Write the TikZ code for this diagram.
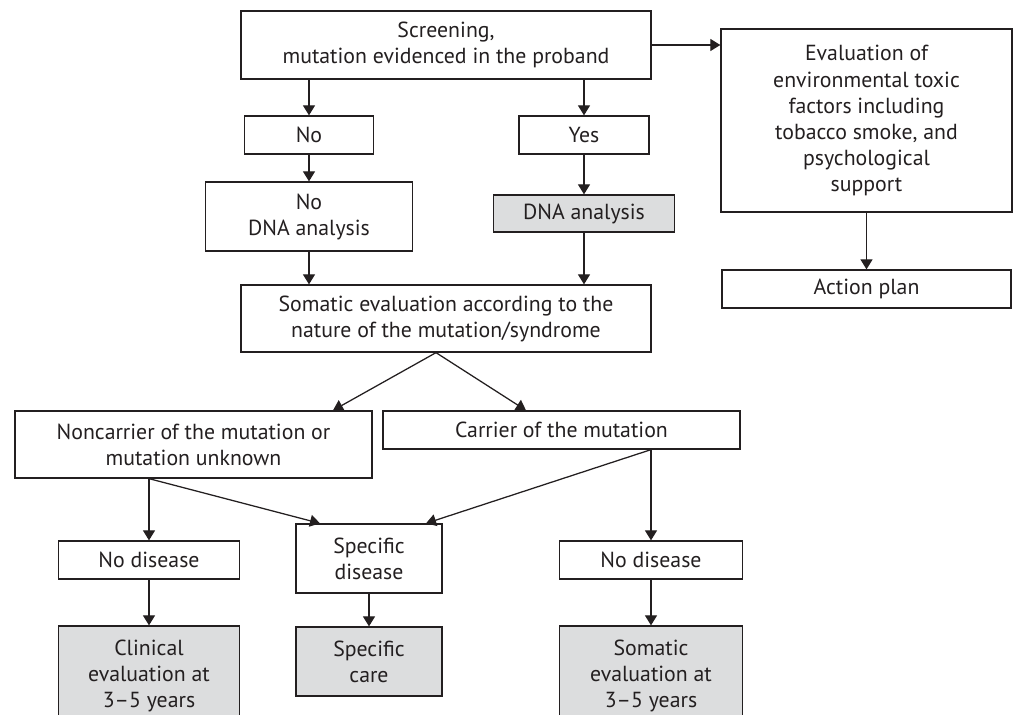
\documentclass[tikz,border=0pt]{standalone}
\usepackage{fontspec}
\setmainfont{PT Sans}
\usetikzlibrary{arrows.meta,calc}

\definecolor{ink}{HTML}{231F20}
\definecolor{boxgrey}{HTML}{DCDDDE}

\tikzset{
    box/.style={draw=ink, line width=0.9pt, align=center, inner sep=0pt, text=ink,
        font=\fontsize{15.5}{18.5}\selectfont},
    greybox/.style={box, fill=boxgrey},
    flow/.style={draw=ink, line width=0.9pt, -{Triangle[length=0.25cm,width=0.3cm]}},
}

\begin{document}
\begin{tikzpicture}[x=0.025cm, y=-0.025cm]
    \useasboundingbox (0,0) rectangle (1017,715);

    % upper part
    \node[box, minimum width=10.25cm, minimum height=1.7cm] (screen) at (446,45)
        {Screening,\\mutation evidenced in the proband};
    \node[box, minimum width=7.275cm, minimum height=4.575cm] (evalenv) at (866.5,120.5)
        {Evaluation of\\environmental toxic\\factors including\\tobacco smoke, and\\psychological\\support};
    \node[box, minimum width=7.225cm, minimum height=0.95cm] (action) at (866.5,289) {Action plan};
    \node[box, minimum width=3.225cm, minimum height=0.95cm] (no) at (309,135) {No};
    \node[box, minimum width=3.25cm, minimum height=0.95cm] (yes) at (584,135) {Yes};
    \node[box, minimum width=5.175cm, minimum height=1.725cm] (nodna) at (309,216.5) {No\\DNA analysis};
    \node[greybox, minimum width=4.525cm, minimum height=0.925cm] (dna) at (584,213.5) {DNA analysis};
    \node[box, minimum width=10.25cm, minimum height=1.675cm] (somatic) at (446,318.5)
        {Somatic evaluation according to the\\nature of the mutation/syndrome};

    % lower part
    \node[box, minimum width=8.925cm, minimum height=1.675cm] (noncarrier) at (193.5,444.5)
        {Noncarrier of the mutation or\\mutation unknown};
    \node[box, minimum width=8.925cm, minimum height=0.95cm] (carrier) at (561.5,430) {Carrier of the mutation};
    \node[box, minimum width=4.525cm, minimum height=0.95cm] (nodisL) at (149,560) {No disease};
    \node[box, minimum width=3.65cm, minimum height=1.725cm] (specdis) at (369,558.5) {Specific\\disease};
    \node[box, minimum width=4.575cm, minimum height=0.95cm] (nodisR) at (651,560) {No disease};
    \node[greybox, minimum width=4.525cm, minimum height=2.5cm] (clinical) at (149,676)
        {Clinical\\evaluation at\\3--5 years};
    \node[greybox, minimum width=3.65cm, minimum height=1.725cm] (speccare) at (369,661.5) {Specific\\care};
    \node[greybox, minimum width=4.575cm, minimum height=2.5cm] (somatic2) at (651,676)
        {Somatic\\evaluation at\\3--5 years};

    % branch points
    \coordinate (sb) at ($(somatic.south)+(-10,0)$);
    \coordinate (nb) at (nodisL.north |- noncarrier.south);
    \coordinate (cb) at (nodisR.north |- carrier.south);

    % arrows
    \draw[flow] (screen.east) -- (screen.east -| evalenv.west);
    \draw[flow] (evalenv.south) -- (action.north);
    \draw[flow] (screen.south -| no) -- (no.north);
    \draw[flow] (screen.south -| yes) -- (yes.north);
    \draw[flow] (no.south) -- (nodna.north);
    \draw[flow] (yes.south) -- (dna.north);
    \draw[flow] (nodna.south) -- (nodna.south |- somatic.north);
    \draw[flow] (dna.south) -- (dna.south |- somatic.north);
    \draw[flow] (sb) -- ($(noncarrier.north)+(139.5,0)$);
    \draw[flow] (sb) -- ($(carrier.north)+(-35.5,0)$);
    \draw[flow] (nb) -- (nodisL.north);
    \draw[flow] (nb) -- ($(specdis.north)+(-49,0)$);
    \draw[flow] (cb) -- (nodisR.north);
    \draw[flow] (cb) -- ($(specdis.north)+(57,0)$);
    \draw[flow] (nodisL.south) -- (clinical.north);
    \draw[flow] (specdis.south) -- (speccare.north);
    \draw[flow] (nodisR.south) -- (somatic2.north);
\end{tikzpicture}
\end{document}
